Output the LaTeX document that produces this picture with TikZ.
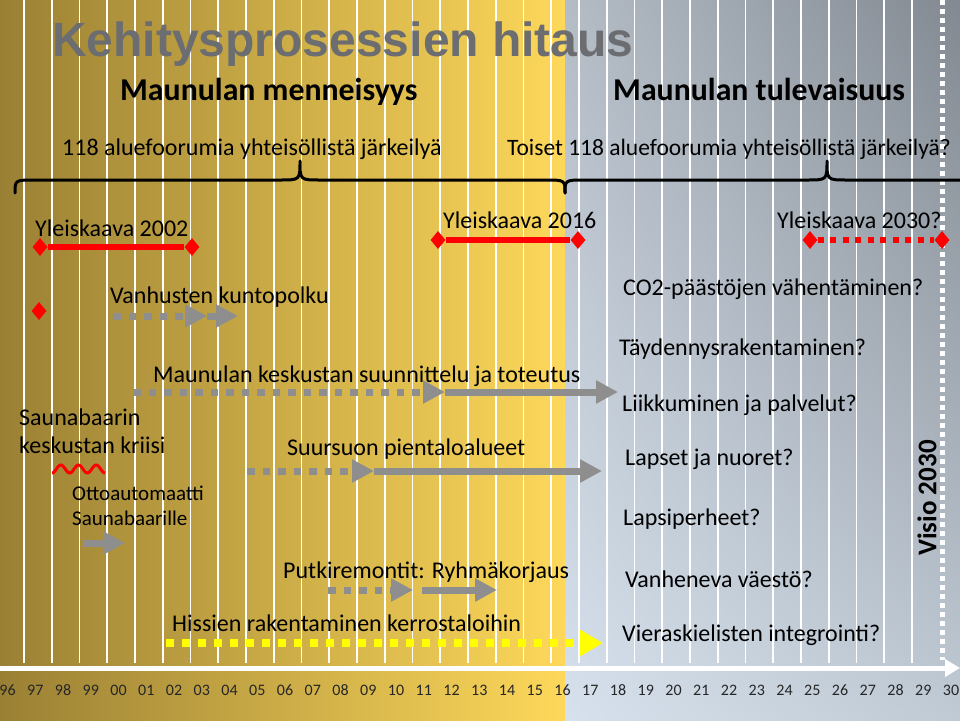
\documentclass[tikz,border=0pt]{standalone}
\usepackage{fontspec}
\setmainfont{Carlito}
\newfontfamily\titlefont{Liberation Sans}
\usetikzlibrary{arrows.meta,shapes.geometric,shadings}
\definecolor{goldA}{RGB}{154,128,52}
\definecolor{goldB}{RGB}{216,180,72}
\definecolor{goldC}{RGB}{253,216,90}
\definecolor{skyUL}{RGB}{180,188,198}
\definecolor{skyUR}{RGB}{130,137,145}
\definecolor{skyLL}{RGB}{214,225,237}
\definecolor{skyLR}{RGB}{192,202,212}
\definecolor{gbar}{RGB}{142,142,142}
\definecolor{titlegray}{RGB}{108,109,112}
\definecolor{hissiyellow}{RGB}{255,255,0}
\begin{document}
\begin{tikzpicture}[x=1pt,y=-1pt,
  txt/.style={font=\fontsize{24}{28}\selectfont, inner sep=0pt, anchor=base west, text=black},
  head/.style={font=\bfseries\fontsize{31.8}{36}\selectfont, inner sep=0pt, anchor=base west},
  yearlbl/.style={font=\fontsize{16}{18}\selectfont, inner sep=0pt, anchor=base, text=black!85},
  gridline/.style={white, line width=1.6pt},
  rdiam/.style={diamond, fill=red, inner sep=0pt, minimum width=15pt, minimum height=18pt},
  redline/.style={red, line width=6pt},
  reddots/.style={red, line width=6pt, dash pattern=on 6pt off 6.5pt},
  dotbar/.style={draw=gbar, line width=7pt, dash pattern=on 7.5pt off 8pt, -{Triangle[length=22pt,width=22pt,fill=gbar]}},
  solbar/.style={draw=gbar, line width=7pt, -{Triangle[length=22pt,width=22pt,fill=gbar]}},
  ydotbar/.style={draw=hissiyellow, line width=8pt, dash pattern=on 8pt off 8pt, -{Triangle[length=23pt,width=25pt,fill=hissiyellow]}},
  bracepath/.style={black, line width=3pt, line cap=round, line join=round}
]
\useasboundingbox (0,0) rectangle (960,720);
% backgrounds
\shade[left color=goldA, middle color=goldB, right color=goldC] (0,0) rectangle (565,720);
\shade[upper left=skyUL, upper right=skyUR, lower left=skyLL, lower right=skyLR] (565,0) rectangle (960,720);
% grid lines
\foreach \k in {0,...,32} \draw[gridline] ({24+27.75*\k},0) -- ({24+27.75*\k},663);
\draw[white, line width=5pt, dash pattern=on 5pt off 4pt] (942,0) -- (942,660);
% time axis
\coordinate (ax0) at (0,668);
\coordinate (ax1) at (960,668);
\draw[white, line width=5pt, -{Triangle[length=15pt,width=17pt]}] (ax0) -- (ax1);
\foreach \yr [count=\i from 0] in {96,97,98,99,00,01,02,03,04,05,06,07,08,09,10,11,12,13,14,15,16,17,18,19,20,21,22,23,24,25,26,27,28,29,30}
  \node[yearlbl] (yr\i) at ({7.5+27.75*\i},695) {\yr};
% titles
\node[inner sep=0pt, anchor=base west, text=titlegray, font=\titlefont\bfseries\fontsize{48}{52}\selectfont] (title) at (52,56) {Kehitysprosessien hitaus};
\node[head] (past) at (120,100) {Maunulan menneisyys};
\node[head] (future) at (613,100) {Maunulan tulevaisuus};
\node[txt] (forum1) at (62,155) {118 aluefoorumia yhteisöllistä järkeilyä};
\node[txt, font=\fontsize{23.5}{28}\selectfont] (forum2) at (507,155) {Toiset 118 aluefoorumia yhteisöllistä järkeilyä?};
% braces
\draw[bracepath] (15,193) .. controls (15,180) .. (35,180) -- (280,180) .. controls (300,180) .. (300,161)
   .. controls (300,180) .. (320,180) -- (545,180) .. controls (565,180) .. (565,193);
\draw[bracepath] (565,193) .. controls (565,180) .. (585,180) -- (807,180) .. controls (827,180) .. (827,161)
   .. controls (827,180) .. (847,180) -- (975,180);
% master plans
\node[txt] (yk02) at (35,236) {Yleiskaava 2002};
\node[txt] (yk16) at (443,228) {Yleiskaava 2016};
\node[txt] (yk30) at (777,228) {Yleiskaava 2030?};
\node[rdiam] (d1) at (40,247) {};
\node[rdiam] (d2) at (192,247) {};
\node[rdiam] (d3) at (438,240) {};
\node[rdiam] (d4) at (578,240) {};
\node[rdiam] (d5) at (810,240) {};
\node[rdiam] (d6) at (942,240) {};
\node[rdiam] (d7) at (39,311) {};
\draw[redline] (d1) -- (d2);
\draw[redline] (d3) -- (d4);
\draw[reddots] (d5.east) -- (d6.west);
% past items
\node[txt] (vanh) at (110,303) {Vanhusten kuntopolku};
\coordinate (va) at (113,316); \coordinate (vb) at (207,316); \coordinate (vc) at (238,316);
\draw[dotbar] (va) -- (vb);
\draw[solbar] (vb) -- (vc);
\node[txt] (kesk) at (153,382) {Maunulan keskustan suunnittelu ja toteutus};
\coordinate (ka) at (133,392); \coordinate (kb) at (445,392); \coordinate (kc) at (618,392);
\draw[dotbar] (ka) -- (kb);
\draw[solbar] (kb) -- (kc);
\node[txt] (sauna1) at (19,425) {Saunabaarin};
\node[txt] (sauna2) at (19,453) {keskustan kriisi};
\draw[red, line width=3pt] plot[domain=0:53, samples=80, smooth] ({52+\x}, {469+4*cos(\x*20.37)});
\node[txt] (suur) at (287,455) {Suursuon pientaloalueet};
\coordinate (sa) at (247,471); \coordinate (sb) at (374,471); \coordinate (sc) at (602,471);
\draw[dotbar] (sa) -- (sb);
\draw[solbar] (sb) -- (sc);
\node[txt, font=\fontsize{21}{25}\selectfont] (otto1) at (72,500) {Ottoautomaatti};
\node[txt, font=\fontsize{21}{25}\selectfont] (otto2) at (72,525) {Saunabaarille};
\coordinate (oa) at (83,543); \coordinate (ob) at (125,543);
\draw[solbar] (oa) -- (ob);
\node[txt] (putki) at (283,578) {Putkiremontit: Ryhmäkorjaus};
\coordinate (pa) at (328,590); \coordinate (pb) at (413,590); \coordinate (pc) at (422,590); \coordinate (pd) at (497,590);
\draw[dotbar] (pa) -- (pb);
\draw[solbar] (pc) -- (pd);
\node[txt] (hissi) at (172,631) {Hissien rakentaminen kerrostaloihin};
\coordinate (ha) at (166,643); \coordinate (hb) at (603,643);
\draw[ydotbar] (ha) -- (hb);
% future questions
\node[txt] (q1) at (623,295) {CO2-päästöjen vähentäminen?};
\node[txt] (q2) at (619,355) {Täydennysrakentaminen?};
\node[txt] (q3) at (622,411) {Liikkuminen ja palvelut?};
\node[txt] (q4) at (625,465) {Lapset ja nuoret?};
\node[txt] (q5) at (623,525) {Lapsiperheet?};
\node[txt] (q6) at (625,587) {Vanheneva väestö?};
\node[txt] (q7) at (622,641) {Vieraskielisten integrointi?};
\node[rotate=90, inner sep=0pt, font=\bfseries\fontsize{27}{30}\selectfont] (visio) at (927,498) {Visio 2030};
\end{tikzpicture}
\end{document}
